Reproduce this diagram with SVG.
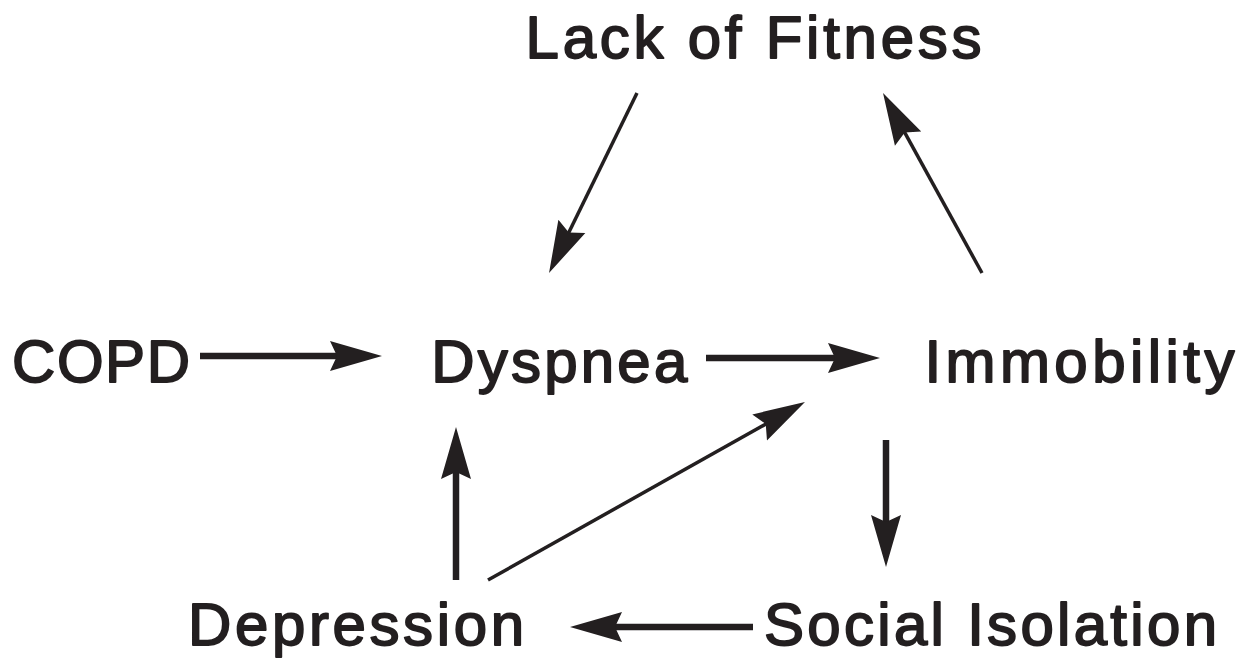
<svg xmlns="http://www.w3.org/2000/svg" width="1243" height="658" viewBox="0 0 1243 658">
<style>
.lbl{font-family:"Liberation Sans",Arial,Helvetica,sans-serif;font-weight:normal;font-size:60px;fill:#231f20;stroke:#231f20;stroke-width:1.8;stroke-linejoin:round}
.thick{stroke:#231f20;stroke-width:6.5;fill:none;marker-end:url(#ah)}
.thin{stroke:#231f20;stroke-width:3.5;fill:none;marker-end:url(#ah)}
</style>
<defs>
<marker id="ah" markerUnits="userSpaceOnUse" markerWidth="60" markerHeight="40" refX="0" refY="0" orient="auto" overflow="visible">
<path d="M40,0 L-12,-15 L-5,0 L-12,15 Z" fill="#231f20"/>
</marker>
</defs>
<rect width="1243" height="658" fill="#ffffff"/>
<g id="connectors">
<line class="thin" x1="637" y1="93" x2="566.6" y2="237.1"/>
<line class="thin" x1="982" y1="273" x2="902.3" y2="128.1"/>
<line class="thin" x1="488" y1="580" x2="770.1" y2="421.6"/>
<line class="thick" x1="456" y1="580" x2="456" y2="467"/>
<line class="thick" x1="200" y1="356" x2="342" y2="356"/>
<line class="thick" x1="706" y1="358" x2="840" y2="358"/>
<line class="thick" x1="886" y1="440" x2="886" y2="527"/>
<line class="thick" x1="753" y1="627" x2="610" y2="627"/>
</g>
<g id="lack-of-fitness"><text class="lbl" x="525.6" y="58" textLength="456" lengthAdjust="spacing">Lack of Fitness</text></g>
<g id="copd"><text class="lbl" x="12" y="382" textLength="178" lengthAdjust="spacing">COPD</text></g>
<g id="dyspnea"><text class="lbl" x="431.3" y="382" textLength="256" lengthAdjust="spacing">Dyspnea</text></g>
<g id="immobility"><text class="lbl" x="924.4" y="382" textLength="310" lengthAdjust="spacing">Immobility</text></g>
<g id="depression"><text class="lbl" x="188" y="645" textLength="336" lengthAdjust="spacing">Depression</text></g>
<g id="social-isolation"><text class="lbl" x="764" y="645" textLength="453" lengthAdjust="spacing">Social Isolation</text></g>
</svg>
